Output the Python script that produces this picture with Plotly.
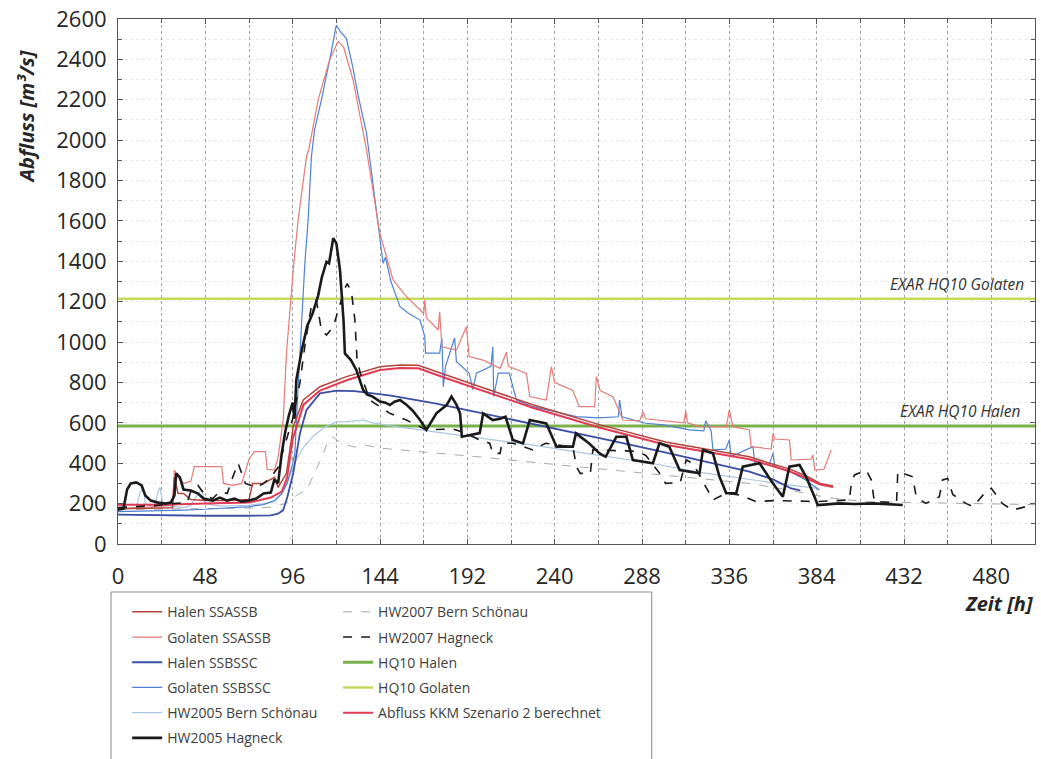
import plotly.graph_objects as go

# ---------------- data: time [h] and discharge [m3/s] ----------------
t_halen_ssassb = [0, 24, 30, 31, 33, 36, 40, 48, 60, 72, 74, 80, 86, 88, 92.6, 96.3, 101.8, 111, 125.6, 144, 155,
                  165, 180, 199, 228, 265, 301, 347, 360, 369, 378, 386, 393]
q_halen_ssassb = [175, 178, 180, 330, 250, 250, 220, 215, 215, 220, 300, 300, 330, 280, 350, 581, 713, 779, 829, 878, 887,
                  885, 837, 779, 690, 590, 505, 432, 395, 372, 338, 300, 287]

t_golaten_ssassb = [0, 8, 16, 24, 30, 31, 33, 36, 40, 42, 50, 57, 58, 63, 68, 72, 75, 81, 82, 86, 88, 90.8, 92.6, 96.3,
                    99, 103.6, 105, 110, 116.4, 121, 124, 129.2, 136.6, 143.9, 151.2, 158.5, 166, 168, 168.6, 169.5,
                    176, 176.8, 178, 186, 191.5, 193, 200.6, 210, 213.5, 214.5, 224.5, 226.3, 235.4, 238.2, 240, 250,
                    253.5, 262, 262.9, 265, 272, 277.5, 286.7, 288.5, 290, 297.6, 311, 312, 313, 319.6, 334.3, 336,
                    338, 347, 348, 359, 360, 361, 369, 370, 381, 381.9, 383, 388, 392]
q_golaten_ssassb = [175, 178, 182, 188, 195, 366, 330, 300, 310, 383, 383, 383, 300, 290, 300, 420, 457, 457, 370, 366,
                    430, 614, 945, 1357, 1605, 1918, 1960, 2200, 2400, 2490, 2460, 2298, 1951, 1539, 1307, 1225, 1160,
                    1140, 1208, 1120, 1060, 1150, 977, 960, 1076, 928, 911, 870, 950, 880, 845, 730, 713, 878, 800, 760,
                    680, 680, 829, 760, 730, 614, 610, 655, 620, 614, 600, 660, 600, 581, 580, 664, 581, 565, 482, 470,
                    548, 520, 515, 416, 420, 441, 366, 370, 466]

t_halen_ssbssc = [0, 24, 48, 72, 84, 88, 90.8, 93, 96.3, 100, 103.6, 111, 120, 130, 150, 175, 199, 225, 250, 275,
                  300, 325, 347, 360, 370, 375]
q_halen_ssbssc = [145, 142, 140, 140, 142, 150, 168, 230, 350, 548, 664, 746, 760, 757, 735, 695, 650, 600, 555, 505,
                  455, 405, 358, 320, 275, 265]

t_golaten_ssbssc = [0, 12, 24, 36, 48, 60, 72, 80, 86, 90, 93, 95.5, 97.2, 99, 100.9, 102.7, 104.5, 106.3, 108,
                    111.8, 116.4, 120, 122, 125.5, 129, 132, 136.6, 140, 143.9, 145.7, 147, 150, 155, 160, 166, 168.6,
                    169, 176.8, 178, 178.8, 180, 185, 186, 193, 195, 197, 205, 206, 206.5, 209, 215, 219, 228, 236,
                    252, 264, 275, 275.7, 277, 290, 300, 314, 322, 323, 326, 327, 334, 336, 337, 349, 350, 358, 360,
                    361, 369, 378, 385.5]
q_golaten_ssbssc = [160, 162, 165, 168, 172, 178, 185, 195, 215, 250, 300, 380, 449, 779, 1109, 1390, 1605, 1918,
                    2050, 2200, 2400, 2570, 2540, 2504, 2364, 2220, 2034, 1800, 1539, 1390, 1420, 1300, 1175, 1140,
                    1109, 1027, 945, 945, 1020, 779, 880, 1020, 903, 846, 764, 846, 880, 977, 730, 846, 846, 713, 680,
                    664, 631, 625, 630, 713, 630, 598, 590, 565, 560, 610, 560, 466, 470, 515, 433, 482, 400, 395, 449,
                    383, 360, 317, 267]

t_hw2005_bern = [0, 6, 10, 12, 14, 15, 20, 22, 23, 25, 36, 40, 44, 46, 48, 56, 64, 72, 80, 86, 90, 94, 98, 102, 108,
                 114, 120, 126, 134.7, 140, 150, 170, 200, 230, 260, 290, 320, 347, 370, 385]
q_hw2005_bern = [170, 175, 180, 250, 280, 200, 180, 260, 280, 190, 180, 190, 250, 268, 200, 188, 190, 192, 200, 210,
                 250, 330, 420, 480, 540, 580, 605, 606, 614, 600, 585, 560, 525, 487, 445, 405, 355, 318, 290, 275]

t_hw2005_hagneck = [0, 3, 5, 7, 10, 13, 15, 18, 22, 26, 29, 31, 32, 34, 36, 40, 44, 47, 52, 56, 60, 64, 68, 72, 76,
                    80, 84, 86, 88, 90, 92, 94, 96, 97, 98, 101, 104, 107, 110, 112, 114.6, 116, 118.3, 120, 122, 124,
                    124.7, 128, 131, 134.7, 137, 140, 144, 147, 149.4, 152, 155, 158.5, 162, 166, 169.5, 172, 175,
                    180.6, 183.3, 186, 188, 189, 194, 198.8, 200.7, 206, 210, 213, 217, 222.6, 226.3, 235.4, 241, 250,
                    251.7, 259, 264.7, 268, 273.9, 279.4, 283, 294, 297.6, 303, 308.7, 319.6, 321.5, 327, 330.6,
                    334.3, 339.8, 343.4, 352.6, 360, 365.4, 369, 374.6, 378.2, 382.8, 384.6, 396.5, 405, 414.8, 422,
                    431.3]
q_hw2005_hagneck = [170, 175, 270, 300, 305, 290, 240, 215, 205, 200, 205, 240, 350, 330, 270, 265, 250, 225, 215,
                    230, 215, 225, 210, 215, 225, 250, 255, 320, 300, 450, 560, 640, 700, 620, 812, 960, 1080, 1143,
                    1230, 1320, 1398, 1390, 1514, 1490, 1357, 1100, 944, 911, 862, 763, 740, 730, 705, 700, 688, 705,
                    713, 690, 660, 614, 565, 600, 647, 688, 730, 690, 647, 531, 540, 549, 647, 614, 620, 630, 515, 498,
                    614, 597, 482, 482, 548, 498, 449, 432, 531, 531, 416, 400, 499, 482, 366, 350, 466, 449, 333, 251,
                    251, 383, 400, 300, 234, 383, 391, 333, 234, 193, 201, 198, 201, 196, 193]

t_hw2007_bern = [0, 24, 48, 72, 84, 92, 98, 103.6, 108, 112, 115, 118, 121, 126, 130, 136, 144, 155, 200, 250, 300,
                 347, 370, 390, 410, 440, 470, 504]
q_hw2007_bern = [170, 172, 175, 178, 182, 200, 240, 267, 350, 430, 500, 531, 510, 490, 480, 490, 475, 466, 430, 385,
                 340, 300, 265, 230, 210, 205, 200, 195]

t_hw2007_hagneck = [0, 10, 20, 30, 38, 40, 44, 48, 52, 56, 60, 63, 66, 68, 70, 76, 80, 84, 88, 92, 96, 100, 103,
                    106.4, 109, 111.8, 114.6, 118.3, 121, 124.7, 126, 128.3, 130.2, 131.4, 133.2, 138.4, 149.4, 158.5,
                    169.5, 184, 191.5, 198.8, 204.3, 206, 210, 211, 217, 228, 235, 250, 252, 254, 259.6, 261, 283, 290,
                    297.7, 301, 309, 312.3, 316, 323.3, 327, 334, 341.6, 350.8, 360, 378, 384, 402, 403, 404.8, 411.2,
                    414, 415.7, 427.9, 428.6, 436.8, 438.7, 444, 451.4, 453.2, 456, 458.8, 466, 470, 477, 480, 483,
                    486, 491.6, 499, 503]
q_hw2007_hagneck = [180, 185, 190, 200, 205, 260, 290, 240, 225, 260, 250, 330, 400, 350, 300, 280, 300, 330, 380,
                    500, 620, 800, 1000, 1184, 1208, 1060, 1035, 1076, 1159, 1266, 1290, 1250, 1109, 911, 846, 713,
                    647, 614, 565, 570, 548, 515, 499, 449, 449, 499, 499, 466, 499, 480, 383, 350, 350, 466, 460, 440,
                    350, 300, 305, 416, 400, 284, 218, 251, 243, 210, 215, 212, 210, 218, 300, 342, 366, 318, 210, 205,
                    358, 333, 234, 201, 234, 317, 325, 245, 201, 185, 259, 276, 240, 201, 168, 185, 180]

t_abfluss_kkm = [0, 24, 48, 72, 84, 90, 93, 96, 102, 111, 126, 144, 155, 165, 180, 199, 228, 265, 301, 347, 360, 369,
                 378, 386, 393]
q_abfluss_kkm = [195, 195, 200, 205, 230, 260, 330, 520, 690, 760, 812, 862, 872, 870, 822, 765, 675, 576, 492, 420,
                 383, 360, 327, 295, 282]

t_hq10 = [0, 504]
hq10_halen = 585
hq10_golaten = 1215

x_ticks = [0, 48, 96, 144, 192, 240, 288, 336, 384, 432, 480]

# ---------------- styling ----------------
FONT = "Open Sans"
TXT = "#262626"

fig = go.Figure()


def add_line(name, t, q, color, width, dash="solid", legend="legend", rank=1):
    fig.add_trace(go.Scatter(
        x=t, y=q, mode="lines", name=name,
        line=dict(color=color, width=width, dash=dash),
        legend=legend, legendgroup=name, legendrank=rank,
        hoverinfo="x+y+name",
    ))


add_line("HQ10 Golaten", t_hq10, [hq10_golaten] * 2, "#c4da5e", 2.5, legend="legend2", rank=4)
add_line("HQ10 Halen", t_hq10, [hq10_halen] * 2, "#78b04a", 3, legend="legend2", rank=3)
add_line("HW2007 Bern Schönau", t_hw2007_bern, q_hw2007_bern, "#a8a8a8", 1, dash="dash", legend="legend2", rank=1)
add_line("HW2005 Bern Schönau", t_hw2005_bern, q_hw2005_bern, "#a9c6e4", 1.2, rank=5)
add_line("Golaten SSBSSC", t_golaten_ssbssc, q_golaten_ssbssc, "#4f82d4", 1.2, rank=4)
add_line("Golaten SSASSB", t_golaten_ssassb, q_golaten_ssassb, "#e57b78", 1.2, rank=2)
add_line("Halen SSBSSC", t_halen_ssbssc, q_halen_ssbssc, "#3a4ea3", 1.8, rank=3)
add_line("Halen SSASSB", t_halen_ssassb, q_halen_ssassb, "#b2443c", 1.5, rank=1)
add_line("Abfluss KKM Szenario 2 berechnet", t_abfluss_kkm, q_abfluss_kkm, "#e23a55", 2, legend="legend2", rank=5)
add_line("HW2007 Hagneck", t_hw2007_hagneck, q_hw2007_hagneck, "#1a1a1a", 1.6, dash="dash", legend="legend2", rank=2)
add_line("HW2005 Hagneck", t_hw2005_hagneck, q_hw2005_hagneck, "#1a1a1a", 2.6, rank=6)

grid_x = "#a3a3a3"
grid_y = "rgba(150,150,150,0.2)"

fig.update_xaxes(
    range=[0, 504], tickvals=x_ticks, ticks="inside", ticklen=5, tickcolor="#555",
    showgrid=True, gridcolor=grid_x, griddash="dot", gridwidth=1,
    minor=dict(dtick=24, tick0=0, showgrid=True, gridcolor=grid_x, griddash="dot",
               ticks="inside", ticklen=4, tickcolor="#555"),
    showline=True, linecolor="#555", linewidth=1, mirror="ticks", zeroline=False,
    tickfont=dict(family=FONT, size=22, color=TXT), ticklabelstandoff=13,
)
fig.update_yaxes(
    range=[0, 2600], dtick=200, ticks="inside", ticklen=5, tickcolor="#555",
    showgrid=True, gridcolor=grid_y, griddash="dot", gridwidth=1,
    minor=dict(dtick=100, showgrid=True, gridcolor=grid_y, griddash="dot",
               ticks="inside", ticklen=4, tickcolor="#555"),
    showline=True, linecolor="#555", linewidth=1, mirror="ticks", zeroline=False,
    tickfont=dict(family=FONT, size=22, color=TXT), ticklabelstandoff=6,
)

legend_style = dict(
    orientation="v", yanchor="top", xanchor="left", y=-0.0995,
    bgcolor="rgba(0,0,0,0)", borderwidth=0, tracegroupgap=4,
    font=dict(family=FONT, size=14, color="#404040"),
)

fig.update_layout(
    width=1041, height=759,
    margin=dict(l=118, r=6, t=19, b=215, autoexpand=False),
    paper_bgcolor="white", plot_bgcolor="white",
    font=dict(family=FONT, color=TXT),
    showlegend=True,
    legend=dict(x=0.010, **legend_style),
    legend2=dict(x=0.240, **legend_style),
    shapes=[dict(type="rect", xref="paper", yref="paper",
                 x0=-0.0076, x1=0.582, y0=-0.0914, y1=-0.45,
                 line=dict(color="#8a8a8a", width=1), fillcolor="rgba(0,0,0,0)", layer="below")],
    annotations=[
        dict(text="<b><i>Abfluss [m³/s]</i></b>", textangle=-90, xref="paper", yref="paper",
             x=-0.1, y=0.813, xanchor="center", yanchor="middle", showarrow=False,
             font=dict(family=FONT, size=20, color=TXT)),
        dict(text="<b><i>Zeit [h]</i></b>", xref="paper", yref="paper",
             x=1.0, y=-0.114, xanchor="right", yanchor="middle", showarrow=False,
             font=dict(family=FONT, size=20, color=TXT)),
        dict(text="<i>EXAR HQ10 Golaten</i>", xref="paper", yref="y",
             x=0.99, y=hq10_golaten, xanchor="right", yanchor="bottom", yshift=2, showarrow=False,
             font=dict(family=FONT, size=15.5, color="#333")),
        dict(text="<i>EXAR HQ10 Halen</i>", xref="paper", yref="y",
             x=0.986, y=hq10_halen, xanchor="right", yanchor="bottom", yshift=2, showarrow=False,
             font=dict(family=FONT, size=15.5, color="#333")),
    ],
)

fig.write_html("out.html")
